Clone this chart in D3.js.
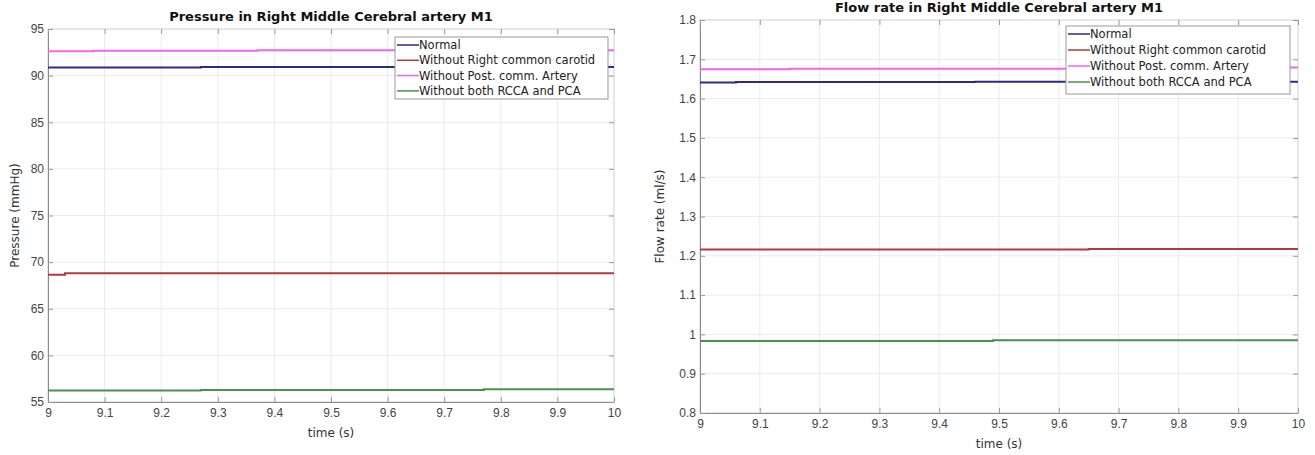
<!DOCTYPE html>
<meta charset="utf-8">
<script src="https://cdn.jsdelivr.net/npm/d3@7"></script>
<style>
  body { margin: 0; background: white; }
  svg { font-family: "DejaVu Sans", sans-serif; }
  .title { font-size: 13px; font-weight: bold; text-anchor: middle; fill: #111; }
  .tick text { font-size: 12px; fill: #444; }
  .lab { font-size: 12px; fill: #333; text-anchor: middle; }
  .leg { font-size: 11.5px; fill: #222; }
</style>
<svg width="1315" height="455"></svg>
<script>

// DATA
const seriesNames = ["Normal", "Without Right common carotid", "Without Post. comm. Artery", "Without both RCCA and PCA"]
const seriesColors = ["#2a2a8c", "#b23a3a", "#ee66ee", "#4e8f4e"]

// pressure, step changes (time, value)
const pNormalT = [9, 9.27, 10],        pNormalV = [90.88, 90.92, 90.92]
const pRcaT    = [9, 9.03, 10],        pRcaV    = [68.65, 68.8, 68.8]
const pPcaT    = [9, 9.08, 9.37, 10],  pPcaV    = [92.62, 92.66, 92.72, 92.72]
const pBothT   = [9, 9.27, 9.77, 10],  pBothV   = [56.24, 56.3, 56.36, 56.36]

// flow rate
const fNormalT = [9, 9.06, 9.46, 10],  fNormalV = [1.641, 1.642, 1.643, 1.643]
const fRcaT    = [9, 9.65, 10],        fRcaV    = [1.216, 1.217, 1.217]
const fPcaT    = [9, 9.15, 9.93, 10],  fPcaV    = [1.675, 1.676, 1.679, 1.679]
const fBothT   = [9, 9.49, 10],        fBothV   = [0.983, 0.985, 0.985]

const xTicks = [9, 9.1, 9.2, 9.3, 9.4, 9.5, 9.6, 9.7, 9.8, 9.9, 10]
const pTicks = [55, 60, 65, 70, 75, 80, 85, 90, 95]
const fTicks = [0.8, 0.9, 1, 1.1, 1.2, 1.3, 1.4, 1.5, 1.6, 1.7, 1.8]

const zip = (t, v) => t.map((d, i) => ({t: d, v: v[i]}))

const panels = [
  {
    title: "Pressure in Right Middle Cerebral artery M1", titleY: 21,
    ylabel: "Pressure (mmHg)", ylabelX: 19,
    box: {x0: 48, x1: 614, y0: 29, y1: 402},
    ydom: [55, 95], yticks: pTicks,
    series: [zip(pNormalT, pNormalV), zip(pRcaT, pRcaV), zip(pPcaT, pPcaV), zip(pBothT, pBothV)],
    legend: {x: 395, y: 37, w: 213, h: 62, dy: 15.3}
  },
  {
    title: "Flow rate in Right Middle Cerebral artery M1", titleY: 12,
    ylabel: "Flow rate (ml/s)", ylabelX: 664,
    box: {x0: 700, x1: 1298, y0: 20, y1: 413},
    ydom: [0.8, 1.8], yticks: fTicks,
    series: [zip(fNormalT, fNormalV), zip(fRcaT, fRcaV), zip(fPcaT, fPcaV), zip(fBothT, fBothV)],
    legend: {x: 1066, y: 26, w: 224, h: 68, dy: 16}
  }
]

const svg = d3.select("svg")

panels.forEach(p => {
  const b = p.box
  const x = d3.scaleLinear().domain([9, 10]).range([b.x0, b.x1])
  const y = d3.scaleLinear().domain(p.ydom).range([b.y1, b.y0])
  const g = svg.append("g")

  // grid
  g.selectAll(".gx").data(xTicks.slice(1, -1)).enter().append("line")
    .attr("x1", d => x(d)).attr("x2", d => x(d))
    .attr("y1", b.y0).attr("y2", b.y1)
    .attr("stroke", "#ebebeb")
  g.selectAll(".gy").data(p.yticks.slice(1, -1)).enter().append("line")
    .attr("y1", d => y(d)).attr("y2", d => y(d))
    .attr("x1", b.x0).attr("x2", b.x1)
    .attr("stroke", "#ebebeb")

  // frame
  g.append("rect")
    .attr("x", b.x0).attr("y", b.y0)
    .attr("width", b.x1 - b.x0).attr("height", b.y1 - b.y0)
    .attr("fill", "none").attr("stroke", "#d0d0d0")

  // axes
  g.append("g").attr("transform", `translate(0,${b.y1})`)
    .call(d3.axisBottom(x).tickValues(xTicks).tickFormat(d3.format("")).tickSizeInner(-5).tickSizeOuter(0).tickPadding(6))
  g.append("g").attr("transform", `translate(${b.x0},0)`)
    .call(d3.axisLeft(y).tickValues(p.yticks).tickFormat(d3.format("")).tickSizeInner(-5).tickSizeOuter(0).tickPadding(4))
  // top / right ticks
  g.append("g").attr("transform", `translate(0,${b.y0})`)
    .call(d3.axisTop(x).tickValues(xTicks).tickFormat("").tickSizeInner(-5).tickSizeOuter(0))
    .call(s => s.select(".domain").remove())
  g.append("g").attr("transform", `translate(${b.x1},0)`)
    .call(d3.axisRight(y).tickValues(p.yticks).tickFormat("").tickSizeInner(-5).tickSizeOuter(0))
    .call(s => s.select(".domain").remove())
  g.selectAll(".domain").attr("stroke", "#8a8a8a")
  g.selectAll(".tick line").attr("stroke", "#9a9a9a")

  // lines
  const line = d3.line().x(d => x(d.t)).y(d => y(d.v)).curve(d3.curveStepAfter)
  p.series.forEach((s, i) => {
    g.append("path").datum(s)
      .attr("d", line)
      .attr("fill", "none")
      .attr("stroke", seriesColors[i])
      .attr("stroke-width", 2)
  })

  // labels
  g.append("text").attr("class", "title")
    .attr("x", (b.x0 + b.x1) / 2).attr("y", p.titleY)
    .text(p.title)
  g.append("text").attr("class", "lab")
    .attr("x", (b.x0 + b.x1) / 2).attr("y", b.y1 + 35)
    .text("time (s)")
  g.append("text").attr("class", "lab")
    .attr("transform", `translate(${p.ylabelX},${(b.y0 + b.y1) / 2}) rotate(-90)`)
    .text(p.ylabel)

  // legend
  const L = p.legend
  const lg = g.append("g").attr("transform", `translate(${L.x},${L.y})`)
  lg.append("rect").attr("width", L.w).attr("height", L.h)
    .attr("fill", "white").attr("stroke", "#999")
  seriesNames.forEach((name, i) => {
    const yy = 8 + i * L.dy
    lg.append("line").attr("x1", 2).attr("x2", 24).attr("y1", yy).attr("y2", yy)
      .attr("stroke", seriesColors[i]).attr("stroke-width", 1.5)
    lg.append("text").attr("class", "leg")
      .attr("x", 24).attr("y", yy + 4)
      .text(name)
  })
})
</script>
